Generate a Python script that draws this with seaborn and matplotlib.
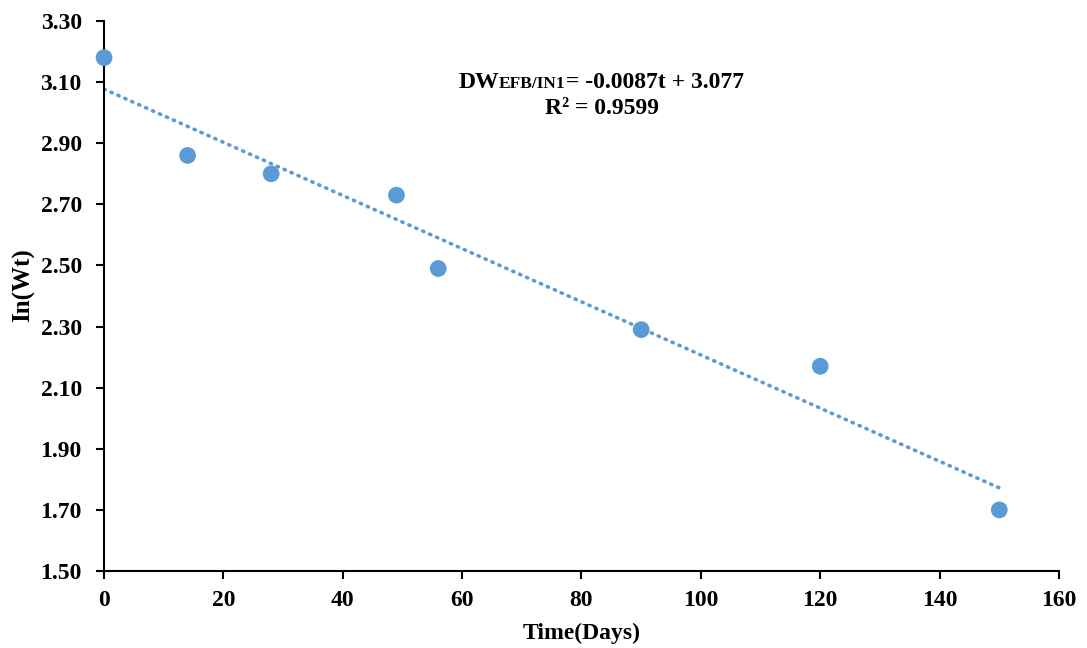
import numpy as np
import matplotlib
matplotlib.use("Agg")
import matplotlib.pyplot as plt
from matplotlib.offsetbox import TextArea, HPacker, AnchoredOffsetbox
import seaborn as sns

# Measured points: time in days vs ln(Wt)
days = [0, 14, 28, 49, 56, 90, 120, 150]
ln_wt = [3.18, 2.86, 2.80, 2.73, 2.49, 2.29, 2.17, 1.70]

# Linear trend as reported on the chart
slope = -0.0087
intercept = 3.077
r_squared = 0.9599

x_ticks = [0, 20, 40, 60, 80, 100, 120, 140, 160]
y_ticks = [1.50, 1.70, 1.90, 2.10, 2.30, 2.50, 2.70, 2.90, 3.10, 3.30]

BLUE = "#5B9BD5"

sns.set_theme(style="ticks")
plt.rcParams["font.family"] = ["Liberation Serif", "DejaVu Serif"]
plt.rcParams["font.weight"] = "bold"
for key in ("text.color", "axes.labelcolor", "xtick.color", "ytick.color"):
    plt.rcParams[key] = "black"

fig = plt.figure(figsize=(10.87, 6.48), dpi=100)
ax = fig.add_axes([0.0957, 0.1188, 0.8785, 0.8488])

# dotted trend line over the sampled range
trend_x = np.array([days[0], days[-1]], dtype=float)
trend_y = slope * trend_x + intercept
ax.plot(trend_x, trend_y, linestyle=(0, (0.35, 1.75)), color=BLUE,
        linewidth=2.6, dash_capstyle="round", zorder=2)

sns.scatterplot(x=days, y=ln_wt, ax=ax, color=BLUE, s=145, edgecolor="none",
                zorder=3, clip_on=False)

ax.set_xlim(0, 160)
ax.set_ylim(1.50, 3.30)
ax.set_xticks(x_ticks)
ax.set_yticks(y_ticks)
ax.set_yticklabels([f"{v:.2f}" for v in y_ticks])
ax.tick_params(axis="both", direction="out", length=6, width=1.5,
               color="black", labelsize=17)
ax.tick_params(axis="y", pad=10)
ax.tick_params(axis="x", pad=8)
for lbl in ax.get_xticklabels() + ax.get_yticklabels():
    lbl.set_fontweight("bold")

for side in ("top", "right"):
    ax.spines[side].set_visible(False)
for side in ("left", "bottom"):
    ax.spines[side].set_color("black")
    ax.spines[side].set_linewidth(1.5)

ax.set_xlabel("Time(Days)", fontsize=17, fontweight="bold")
ax.set_ylabel("In(Wt)", fontsize=18, fontweight="bold")
ax.xaxis.set_label_coords(0.5, -0.094)
ax.yaxis.set_label_coords(-0.072, 0.52)

# regression equation, with the subscript written in small capitals
big = dict(fontsize=17, fontweight="bold", color="black")
small = dict(fontsize=12.5, fontweight="bold", color="black")
eq_box = HPacker(
    children=[
        TextArea("DW", textprops=big),
        TextArea("EFB/IN1", textprops=small),
        TextArea(f"= {slope:.4f}t + {intercept:.3f}", textprops=big),
    ],
    align="baseline", pad=0, sep=0,
)
fig.add_artist(AnchoredOffsetbox(
    loc="center", child=eq_box, frameon=False, pad=0, borderpad=0,
    bbox_to_anchor=(601 / 1087, 1 - 82 / 648), bbox_transform=fig.transFigure,
))
fig.text(602 / 1087, 1 - 108 / 648, f"R² = {r_squared:.4f}", ha="center",
         va="center", **big)

fig.savefig("out.png", dpi=100)
